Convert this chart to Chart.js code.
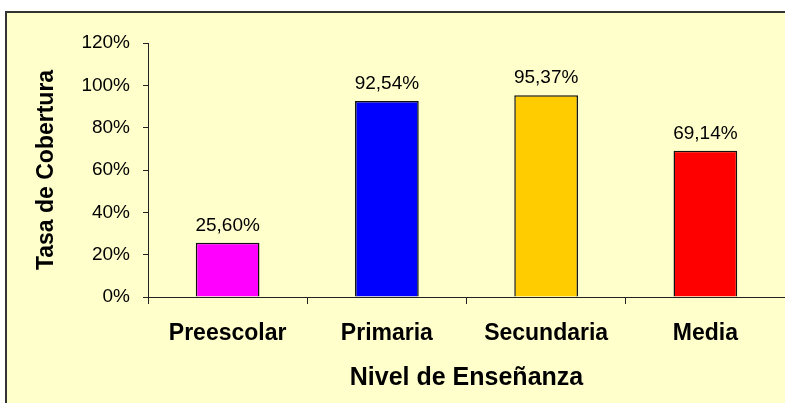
<!DOCTYPE html>
<html><head><meta charset="utf-8">
<script src="https://cdn.jsdelivr.net/npm/chart.js@4/dist/chart.umd.min.js"></script>
<style>html,body{margin:0;padding:0;background:#fff;overflow:hidden}#c{display:block}</style>
</head><body>
<canvas id="c" width="785" height="403"></canvas>
<script>
const categories = ['Preescolar', 'Primaria', 'Secundaria', 'Media'];
const coverage = [25.60, 92.54, 95.37, 69.14];
const barColors = ['#FF00FF', '#0000FF', '#FFCC00', '#FF0000'];
const yMin = 0, yMax = 120, yStep = 20;
const yTitle = 'Tasa de Cobertura';
const xTitle = 'Nivel de Enseñanza';

const FONT = "'Liberation Sans', Arial, Helvetica, sans-serif";

const panelPlugin = {
  id: 'panel',
  beforeDraw(chart) {
    const ctx = chart.ctx;
    ctx.save();
    ctx.fillStyle = '#FFFFFF';
    ctx.fillRect(0, 0, chart.width, chart.height);
    ctx.fillStyle = '#FFFFCC';
    ctx.fillRect(6, 12, chart.width - 6, chart.height - 12);
    ctx.fillStyle = '#333333';
    ctx.fillRect(5, 11, chart.width - 5, 2);
    ctx.fillRect(5, 11, 2, chart.height - 11);
    ctx.restore();
  }
};

const valueLabels = {
  id: 'valueLabels',
  afterDatasetsDraw(chart) {
    const ctx = chart.ctx;
    const meta = chart.getDatasetMeta(0);
    ctx.save();
    ctx.font = '19px ' + FONT;
    ctx.fillStyle = '#000';
    ctx.textAlign = 'center';
    ctx.textBaseline = 'alphabetic';
    meta.data.forEach((bar, i) => {
      const v = chart.data.datasets[0].data[i];
      ctx.fillText(v.toFixed(2).replace('.', ',') + '%', bar.x, bar.y - 12);
    });
    ctx.restore();
  }
};

new Chart(document.getElementById('c'), {
  type: 'bar',
  data: {
    labels: categories,
    datasets: [{
      data: coverage,
      backgroundColor: barColors,
      borderColor: '#111',
      borderWidth: 1.5,
      barPercentage: 0.4,
      categoryPercentage: 1.0
    }]
  },
  options: {
    responsive: false,
    animation: false,
    events: [],
    layout: { padding: { top: 43, right: 0, left: 0, bottom: 0 } },
    plugins: { legend: { display: false }, tooltip: { enabled: false }, title: { display: false } },
    scales: {
      x: {
        offset: true,
        grid: { offset: true, drawOnChartArea: false, drawTicks: true, tickLength: 7, color: '#222', lineWidth: 1 },
        border: { display: true, color: '#222', width: 1 },
        ticks: { color: '#000', font: { family: FONT, size: 23, weight: 'bold' }, padding: 16, maxRotation: 0 },
        title: { display: true, text: xTitle, color: '#000', font: { family: FONT, size: 25, weight: 'bold' }, padding: { top: 10, bottom: 10 } },
        afterFit(scale) { scale.height = 106; }
      },
      y: {
        min: yMin, max: yMax,
        grid: { drawOnChartArea: false, drawTicks: true, tickLength: 5, color: '#222', lineWidth: 1 },
        border: { display: true, color: '#222', width: 1 },
        ticks: { stepSize: yStep, color: '#000', font: { family: FONT, size: 19 }, padding: 13, callback: v => v + '%' },
        title: { display: true, text: yTitle, color: '#000', font: { family: FONT, size: 23, weight: 'bold' }, padding: { top: 33, bottom: 4 } },
        afterFit(scale) { scale.width = 148; }
      }
    }
  },
  plugins: [panelPlugin, valueLabels]
});
</script>
</body></html>
